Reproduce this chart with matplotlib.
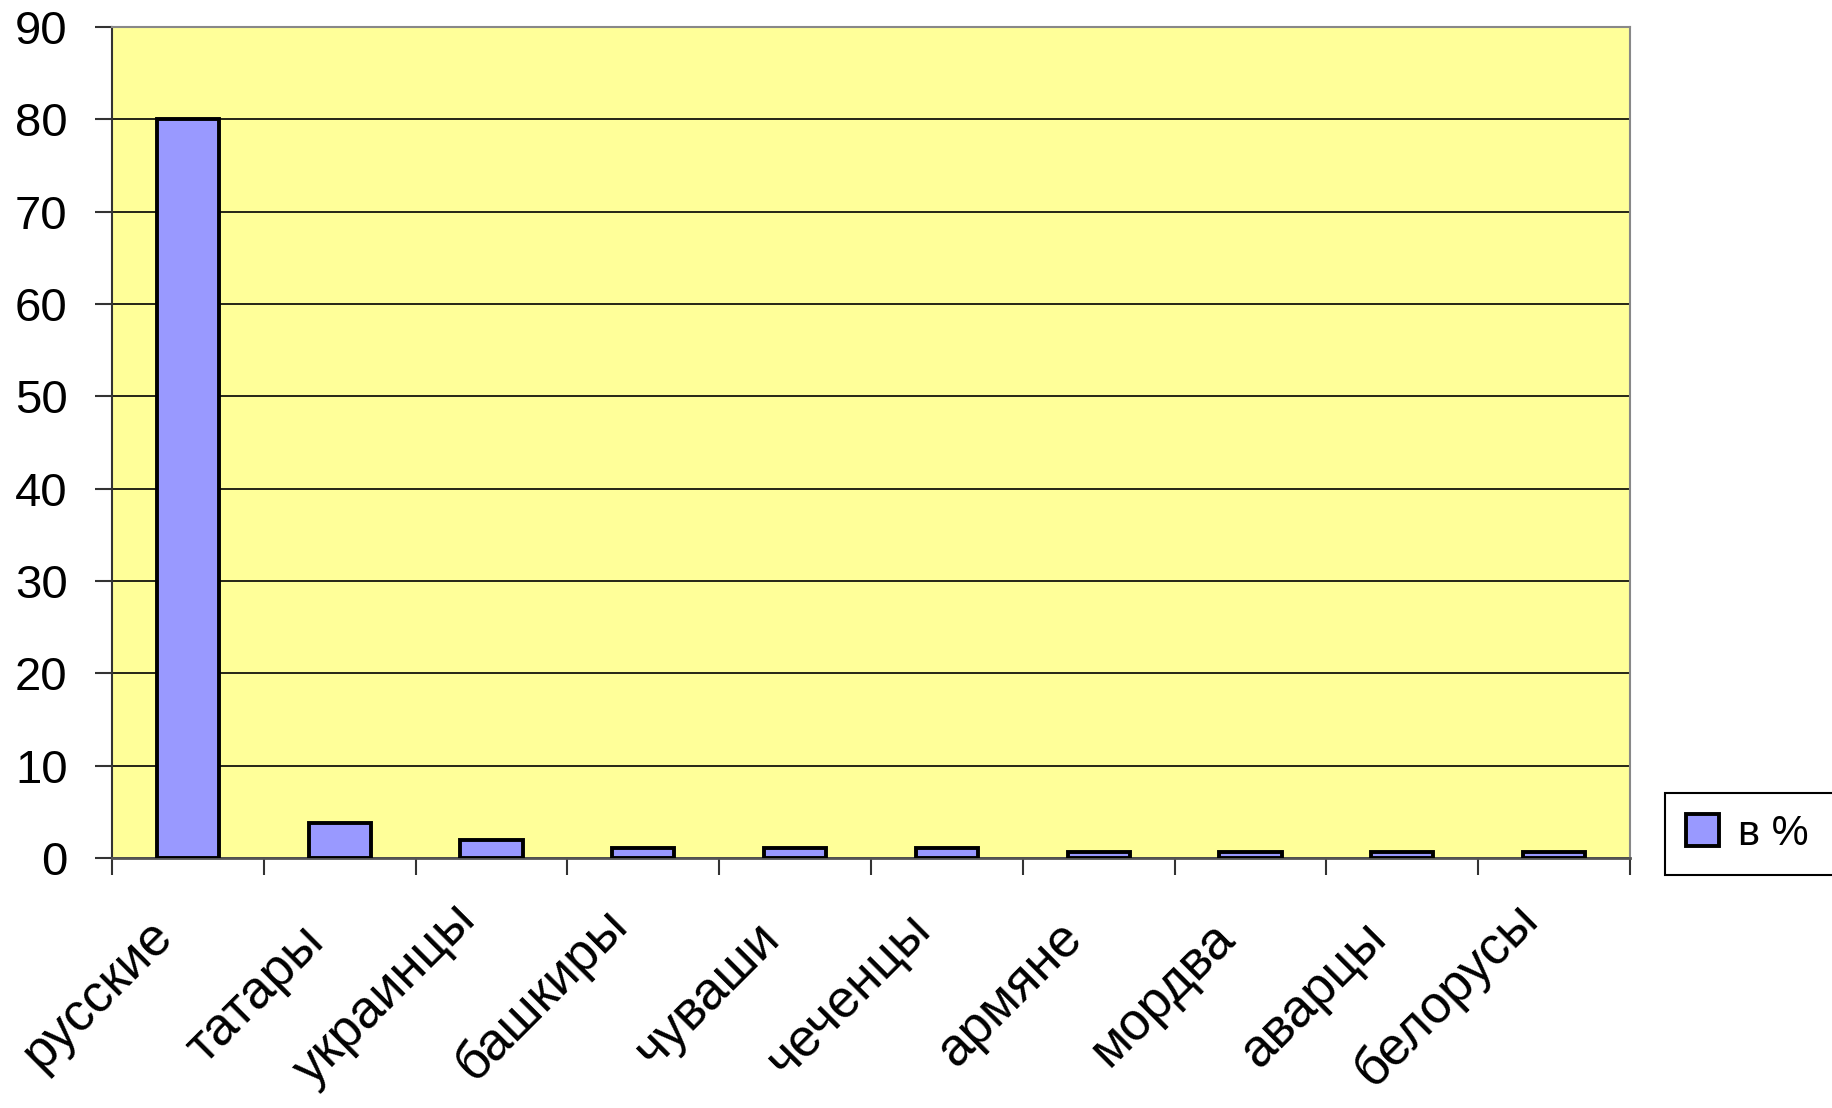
import matplotlib
matplotlib.use('Agg')
import matplotlib.pyplot as plt
import matplotlib.transforms as mtransforms
import numpy as np

plt.rcParams['font.family'] = ['Liberation Sans', 'DejaVu Sans']

# data (percent of population)
nations = ['русские', 'татары', 'украинцы', 'башкиры', 'чуваши',
           'чеченцы', 'армяне', 'мордва', 'аварцы', 'белорусы']
share = [80, 3.8, 2.0, 1.1, 1.1, 1.1, 0.6, 0.6, 0.6, 0.6]
series_name = 'в %'

W, H = 1833, 1108
fig = plt.figure(figsize=(W / 100, H / 100), dpi=100)
ax = fig.add_axes([112 / W, 1 - 858 / H, 1518 / W, 831 / H])
ax.set_facecolor('#FFFF99')

x = np.arange(len(nations))
ax.bar(x, share, width=0.41, color='#9999FF', edgecolor='black',
       linewidth=2.8, label=series_name, zorder=3)

ax.set_xlim(-0.5, len(nations) - 0.5)
ax.set_ylim(0, 90)
ax.set_yticks(np.arange(0, 91, 10))
ax.yaxis.grid(True, color='black', linewidth=1.2, zorder=1)

# ticks at category boundaries, labels at centres
ax.set_xticks(np.arange(-0.5, len(nations) + 0.5, 1))
ax.set_xticklabels([])
ax.set_xticks(x, minor=True)
# rotated box: right edge near the category centre, vertically centred
ax.set_xticklabels(nations, minor=True, rotation=45, ha='right',
                   va='center', rotation_mode='default', fontsize=38)
ax.tick_params(axis='x', which='minor', length=0, pad=98)
ax.tick_params(axis='x', which='major', length=12, width=1.5,
               direction='out', color='#333333')
ax.tick_params(axis='y', length=12, width=1.5, direction='out',
               labelsize=34, pad=20, color='#333333')

shift = mtransforms.ScaledTranslation(-0.06, 0, fig.dpi_scale_trans)
for lab in ax.get_xticklabels(minor=True):
    lab.set_transform(lab.get_transform() + shift)

for side in ['top', 'right']:
    ax.spines[side].set_color('#888888')
    ax.spines[side].set_linewidth(1.5)
ax.spines['left'].set_color('#333333')
ax.spines['left'].set_linewidth(1.5)
ax.spines['bottom'].set_color('#555555')
ax.spines['bottom'].set_linewidth(2)

leg = fig.legend(loc='upper left',
                 bbox_to_anchor=(1665 / W, 1 - 871 / H, 200 / W, 78 / H),
                 mode='expand', borderaxespad=0, fontsize=30, fancybox=False,
                 edgecolor='black', framealpha=1, handlelength=0.8,
                 handleheight=0.8, handletextpad=0.45, borderpad=0.5)
leg.get_frame().set_linewidth(1.5)

fig.savefig('out.png', dpi=100)
